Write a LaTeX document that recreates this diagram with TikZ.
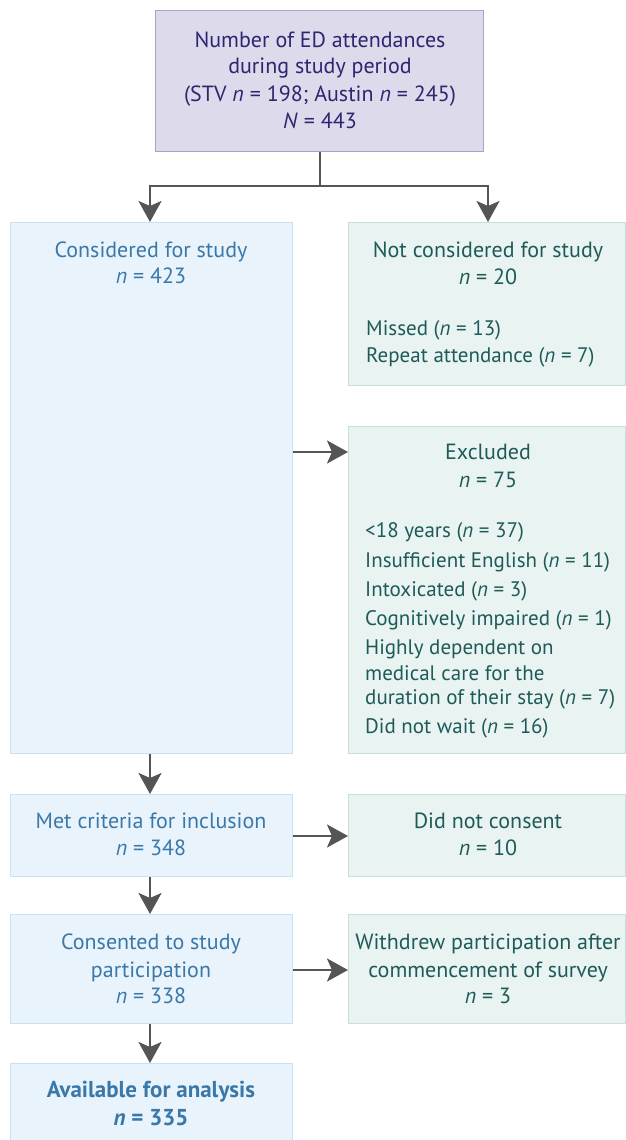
\documentclass[tikz,border=0pt]{standalone}
\usepackage{fontspec}
\setmainfont{PT Sans}
\usetikzlibrary{arrows.meta}
\definecolor{topfill}{HTML}{DDDAEB}
\definecolor{topdraw}{HTML}{A8A2CC}
\definecolor{toptext}{HTML}{2D2670}
\definecolor{bluefill}{HTML}{E8F3FB}
\definecolor{bluedraw}{HTML}{C8E2F4}
\definecolor{bluetext}{HTML}{3A78A9}
\definecolor{greenfill}{HTML}{E8F3F2}
\definecolor{greendraw}{HTML}{C7DFDD}
\definecolor{greentext}{HTML}{1E5B58}
\definecolor{arrowgray}{HTML}{555555}
\tikzset{
  boxbase/.style={rectangle, anchor=north west, inner sep=0pt, line width=1.2pt},
  topbox/.style={boxbase, fill=topfill, draw=topdraw},
  bluebox/.style={boxbase, fill=bluefill, draw=bluedraw},
  greenbox/.style={boxbase, fill=greenfill, draw=greendraw},
  txt/.style={anchor=base, inner sep=0pt, font=\fontsize{22}{26}\selectfont},
  toptxt/.style={txt, text=toptext},
  bluetxt/.style={txt, text=bluetext},
  boldtxt/.style={bluetxt, font=\fontsize{23}{26}\selectfont\bfseries},
  greentxt/.style={txt, text=greentext},
  greenleft/.style={greentxt, anchor=base west, font=\fontsize{21}{26}\selectfont},
  conn/.style={draw=arrowgray, line width=2.6pt},
  arr/.style={conn, -{Stealth[length=21pt,width=23pt,inset=5pt]}},
}
\begin{document}
\begin{tikzpicture}[x=1pt,y=-1pt]
\useasboundingbox (0,0) rectangle (625,1140);
% boxes
\node[topbox, minimum width=328pt, minimum height=141pt] (top) at (155,10) {};
\node[bluebox, minimum width=282pt, minimum height=531pt] (cons) at (10,222) {};
\node[greenbox, minimum width=277pt, minimum height=163pt] (notc) at (348,222) {};
\node[greenbox, minimum width=277pt, minimum height=327pt] (excl) at (348,426) {};
\node[bluebox, minimum width=282pt, minimum height=82pt] (met) at (10,794) {};
\node[greenbox, minimum width=277pt, minimum height=82pt] (dnc) at (348,794) {};
\node[bluebox, minimum width=282pt, minimum height=109pt] (csd) at (10,914) {};
\node[greenbox, minimum width=277pt, minimum height=109pt] (wd) at (348,914) {};
\node[bluebox, minimum width=282pt, minimum height=90pt] (avail) at (10,1063) {};
% texts
\node[toptxt] (t1) at (320,48) {Number of ED attendances};
\node[toptxt] (t2) at (320,74) {during study period};
\node[toptxt] (t3) at (320,101) {(STV \textit{n} = 198; Austin \textit{n} = 245)};
\node[toptxt] (t4) at (320,128) {\textit{N} = 443};
\node[bluetxt] (c1) at (151,257) {Considered for study};
\node[bluetxt] (c2) at (151,283) {\textit{n} = 423};
\node[greentxt] (n1) at (488,257) {Not considered for study};
\node[greentxt] (n2) at (488,284) {\textit{n} = 20};
\node[greenleft] (n3) at (366,335) {Missed (\textit{n} = 13)};
\node[greenleft] (n4) at (366,362) {Repeat attendance (\textit{n} = 7)};
\node[greentxt] (e1) at (488,459) {Excluded};
\node[greentxt] (e2) at (488,487) {\textit{n} = 75};
\node[greenleft] (e3) at (365,537) {<18 years (\textit{n} = 37)};
\node[greenleft] (e4) at (365,567) {Insufficient English (\textit{n} = 11)};
\node[greenleft] (e5) at (365,596) {Intoxicated (\textit{n} = 3)};
\node[greenleft] (e6) at (365,625) {Cognitively impaired (\textit{n} = 1)};
\node[greenleft] (e7) at (365,654) {Highly dependent on};
\node[greenleft] (e8) at (365,680) {medical care for the};
\node[greenleft] (e9) at (365,704) {duration of their stay (\textit{n} = 7)};
\node[greenleft] (e10) at (365,733) {Did not wait (\textit{n} = 16)};
\node[bluetxt] (m1) at (151,828) {Met criteria for inclusion};
\node[bluetxt] (m2) at (151,855) {\textit{n} = 348};
\node[greentxt] (d1) at (488,828) {Did not consent};
\node[greentxt] (d2) at (488,855) {\textit{n} = 10};
\node[bluetxt] (s1) at (151,949) {Consented to study};
\node[bluetxt] (s2) at (151,977) {participation};
\node[bluetxt] (s3) at (151,1003) {\textit{n} = 338};
\node[greentxt] (w1) at (488,949) {Withdrew participation after};
\node[greentxt] (w2) at (488,977) {commencement of survey};
\node[greentxt] (w3) at (488,1003) {\textit{n} = 3};
\node[boldtxt] (a1) at (151,1097) {Available for analysis};
\node[boldtxt] (a2) at (151,1125) {\textit{n} = 335};
% connectors
\coordinate (split) at (320,186);
\draw[conn] (top.south -| split) -- (split);
\draw[arr] (split) -| (cons.north west -| 150,0);
\draw[arr] (split) -| (notc.north west -| 488,0);
\draw[arr] (cons.east |- 0,452) -- (excl.west |- 0,452);
\draw[arr] (cons.south west -| 150,0) -- (met.north west -| 150,0);
\draw[arr] (met.east |- 0,836) -- (dnc.west |- 0,836);
\draw[arr] (met.south west -| 150,0) -- (csd.north west -| 150,0);
\draw[arr] (csd.east |- 0,970) -- (wd.west |- 0,970);
\draw[arr] (csd.south west -| 150,0) -- (avail.north west -| 150,0);
\end{tikzpicture}
\end{document}
